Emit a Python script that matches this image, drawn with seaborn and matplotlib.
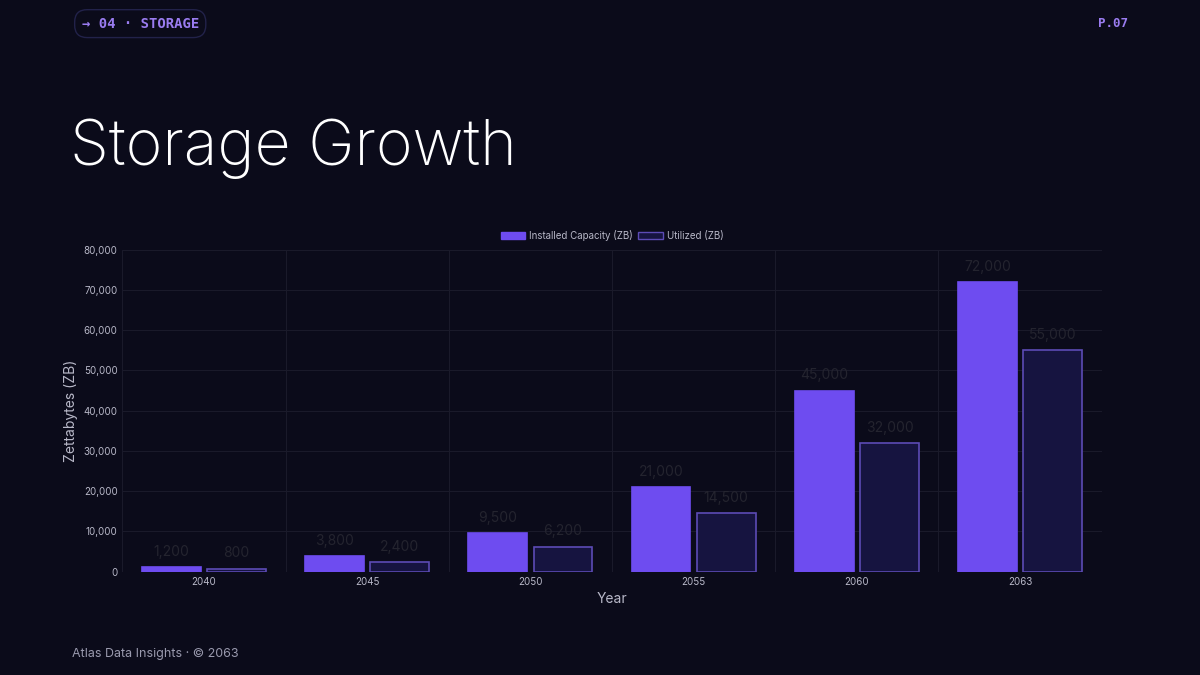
import pandas as pd
import matplotlib.pyplot as plt
import seaborn as sns

years = ["2040", "2045", "2050", "2055", "2060", "2063"]
installed = [1200, 3800, 9500, 21000, 45000, 72000]
utilized = [800, 2400, 6200, 14500, 32000, 55000]
series = ["Installed Capacity (ZB)", "Utilized (ZB)"]

df = pd.DataFrame({
    "Year": years * 2,
    "value": installed + utilized,
    "series": [series[0]] * len(years) + [series[1]] * len(years),
})

BG = "#0b0b1a"
sns.set_theme(style="dark")
plt.rcParams["font.family"] = ["Inter", "DejaVu Sans"]

fig = plt.figure(figsize=(12, 6.75), dpi=100, facecolor=BG)
ax = fig.add_axes([0.102, 0.153, 0.816, 0.477], facecolor=BG)

sns.barplot(data=df, x="Year", y="value", hue="series", order=years,
            palette=["#6e4cf0", "#161440"], saturation=1, gap=0.1, ax=ax)

for bar, col in zip(ax.patches[:12], ["#6e4cf0"] * 6 + ["#5c4bb5"] * 6):
    bar.set_edgecolor(col)
    bar.set_linewidth(1.2)

for cont in ax.containers:
    ax.bar_label(cont, labels=[f"{v:,.0f}" for v in cont.datavalues],
                 padding=6, color="#24242f", fontsize=10)

ax.set_ylim(0, 80000)
ax.set_yticks(range(0, 80001, 10000))
ax.set_yticklabels([f"{v:,}" for v in range(0, 80001, 10000)])
ax.tick_params(colors="#b8b8c8", labelsize=7, length=0)
ax.set_xlabel("Year", color="#b8b8c8", fontsize=10)
ax.set_ylabel("Zettabytes (ZB)", color="#b8b8c8", fontsize=10)
ax.grid(True, color="#1a1a2a", lw=0.8)
ax.set_axisbelow(True)
ax.set_xticks([i + 0.5 for i in range(-1, 6)], minor=True)
ax.grid(False, axis="x")
ax.grid(True, which="minor", axis="x", color="#1a1a2a", lw=0.8)
for s in ax.spines.values():
    s.set_visible(False)

leg = ax.legend(loc="lower center", bbox_to_anchor=(0.5, 1.0), ncol=2, frameon=False,
                fontsize=7, labelcolor="#b8b8c8", handlelength=2.5, handleheight=0.8,
                columnspacing=0.6, handletextpad=0.4)
leg.legend_handles[0].set_edgecolor("#6e4cf0")
leg.legend_handles[1].set_edgecolor("#5c4bb5")

fig.text(0.058, 0.755, "Storage Growth", color="white", fontsize=45,
         fontweight="light", ha="left")
fig.text(0.068, 0.965, "→ 04 · STORAGE", color="#9a7cf0", fontsize=10,
         fontweight="bold", family=["DejaVu Sans Mono"], va="center",
         bbox=dict(boxstyle="round,pad=0.5,rounding_size=0.9", fc=BG, ec="#22224a"))
fig.text(0.94, 0.965, "P.07", color="#9a7cf0", fontsize=9, family=["DejaVu Sans Mono"],
         fontweight="bold", ha="right", va="center")
fig.text(0.06, 0.027, "Atlas Data Insights · © 2063", color="#9a9aae", fontsize=9)

fig.savefig("out.png", dpi=100, facecolor=BG)
